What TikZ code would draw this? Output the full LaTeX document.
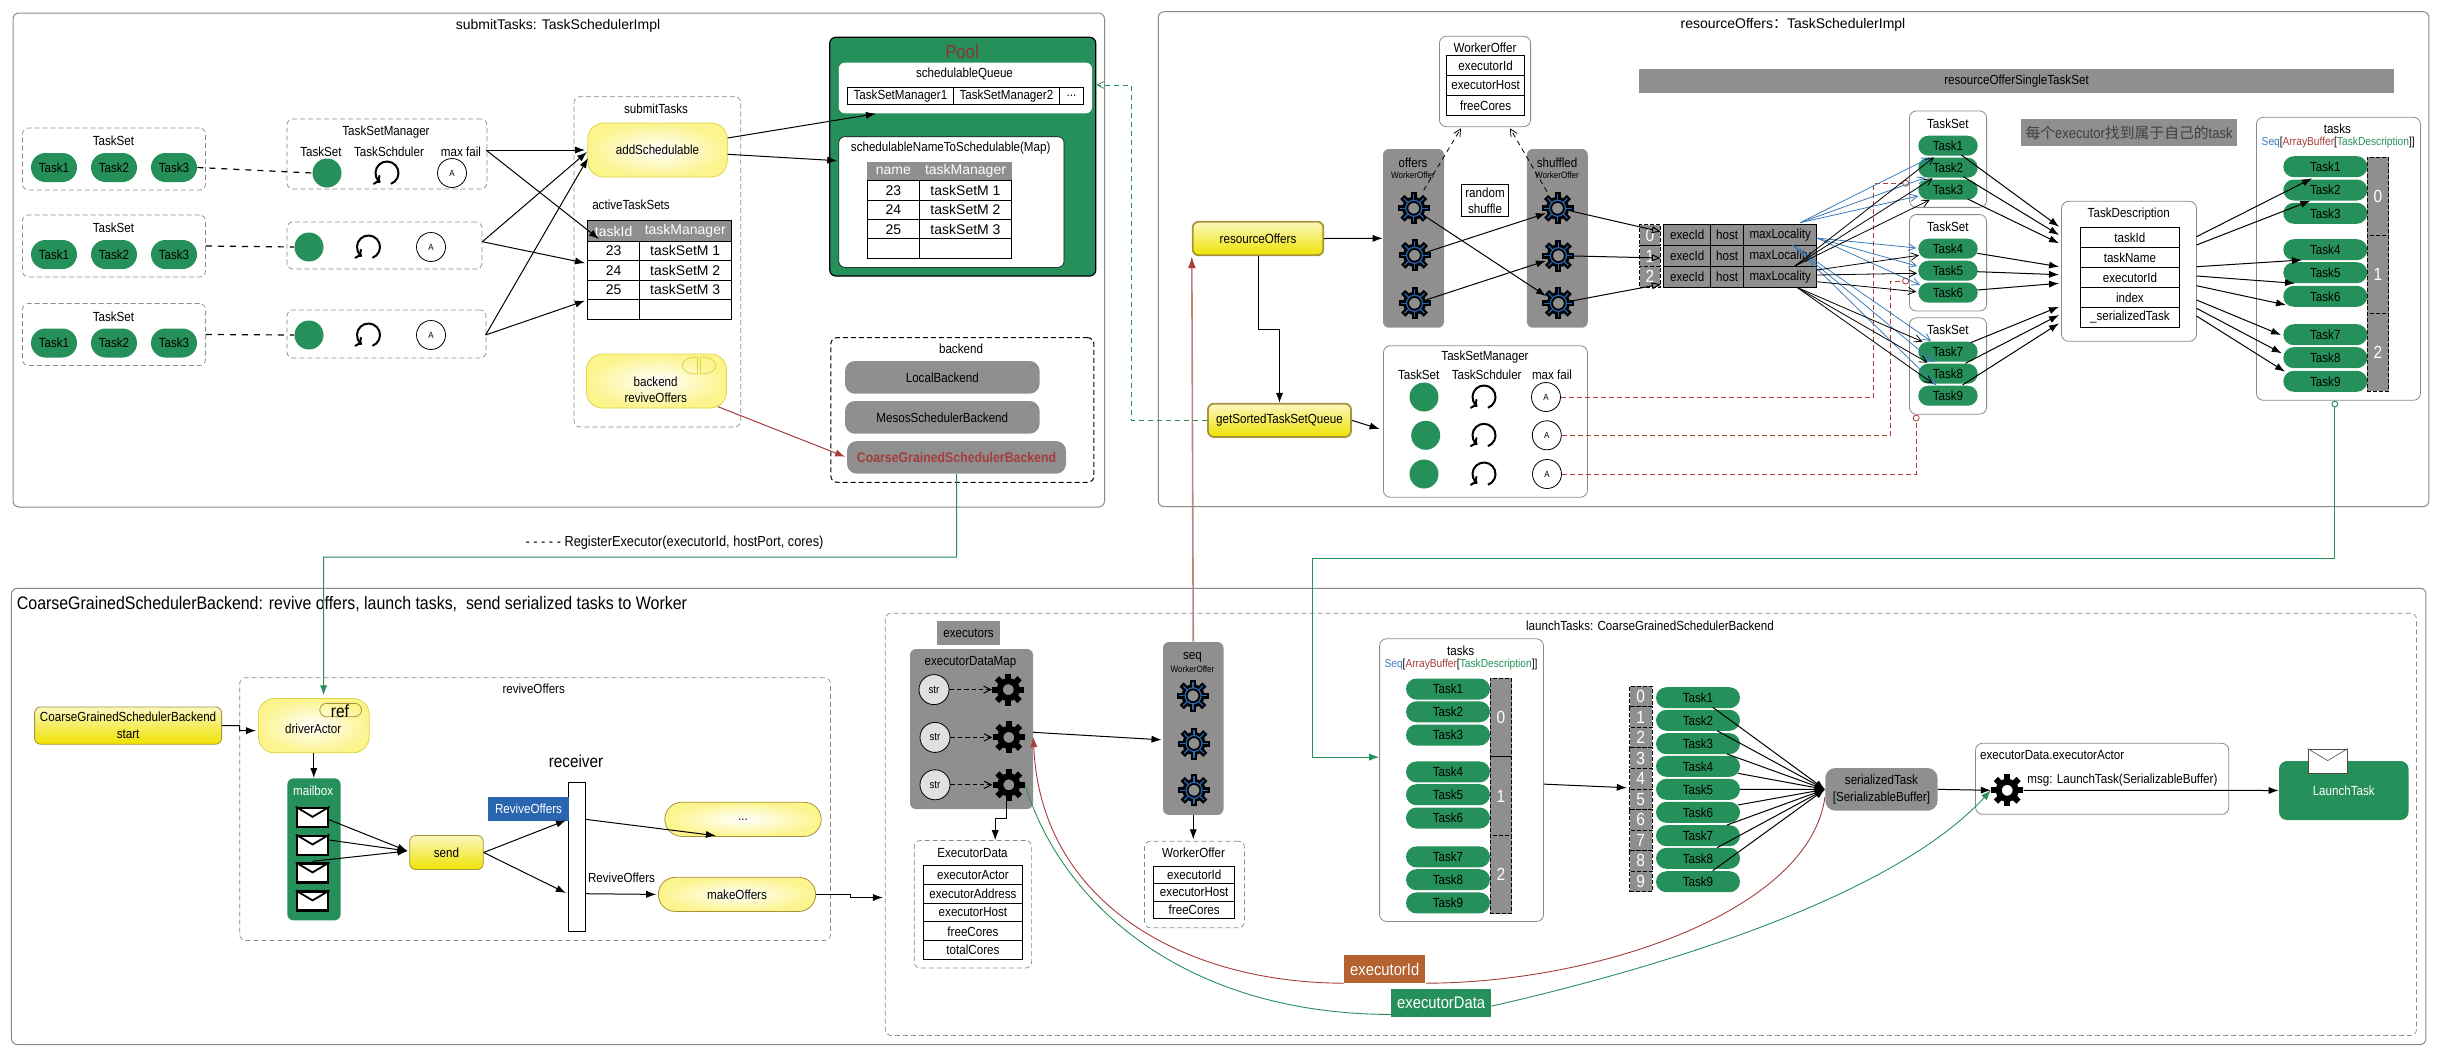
\documentclass[tikz,border=0pt]{standalone}
\usepackage{fontspec}
\setmainfont[FakeStretch=0.88]{Liberation Sans}
\newfontfamily\widefont{Liberation Sans}
\newfontfamily\cjk{Noto Sans CJK SC}
\usetikzlibrary{arrows.meta,calc,shapes.misc}
\definecolor{sgreen}{HTML}{25905A}
\definecolor{sgray}{HTML}{8F8F8F}
\definecolor{sred}{HTML}{A63C3C}
\definecolor{sblue}{HTML}{3E7CB8}
\definecolor{sbrown}{HTML}{B4622F}
\definecolor{gearblue}{HTML}{2A66B0}
\definecolor{linegray}{HTML}{8A8A8A}
\definecolor{yellow1}{HTML}{FBF8C0}
\definecolor{yellow2}{HTML}{EFE200}
\definecolor{yellow3}{HTML}{FCF48C}
\definecolor{yellowline}{HTML}{A8923A}
\begin{document}
\begin{tikzpicture}[x=.5pt,y=-.5pt,
  every node/.style = {inner sep=0pt, align=center, font=\fontsize{6.6}{7.4}\selectfont},
  wh/.style 2 args = {minimum width=#1*.5pt, minimum height=#2*.5pt},
  wide/.style = {font=\fontsize{7}{8}\selectfont\widefont},
  tinytext/.style = {font=\fontsize{4.6}{5}\selectfont},
  seqtext/.style = {font=\fontsize{5.8}{6.5}\selectfont},
  bigtext/.style = {font=\fontsize{8.8}{10}\selectfont},
  panel/.style = {draw=linegray, line width=.5pt, rounded corners=3pt},
  dashbox/.style = {draw=linegray, line width=.35pt, dash pattern=on 2.5pt off 1.5pt, rounded corners=3pt},
  solidbox/.style = {draw=linegray, line width=.4pt, fill=white, rounded corners=3.5pt},
  graybox/.style = {fill=sgray, rounded corners=3pt},
  flatgray/.style = {fill=sgray},
  pillnode/.style = {shape=rounded rectangle, fill=sgreen},
  cell/.style = {draw=black, line width=.5pt, fill=white},
  tablecell/.style = {cell, wide},
  headcell/.style = {fill=sgray, text=white, wide},
  stripcell/.style = {draw=black, line width=.5pt, dash pattern=on 2pt off 1pt, fill=sgray, text=white, bigtext},
  softyellow/.style = {draw=yellow!70!gray, line width=.4pt, inner color=white, outer color=yellow3, rounded corners=8pt},
  softpill/.style = {shape=rounded rectangle, draw=yellowline, line width=.4pt, inner color=white, outer color=yellow3},
  goldbox/.style = {draw=yellowline, line width=.9pt, top color=yellow1, bottom color=yellow2, rounded corners=3pt},
  thingold/.style = {goldbox, line width=.4pt},
  mgrdot/.style = {circle, fill=sgreen, minimum size=14.5pt},
  failnode/.style = {circle, draw=black, line width=.4pt, fill=white, minimum size=14.5pt, font=\fontsize{4.5}{5}\selectfont},
  strnode/.style = {circle, draw=black, line width=.4pt, fill=black!12, minimum size=15pt, font=\fontsize{5.5}{6}\selectfont},
  gearspot/.style = {circle, minimum size=16pt},
  envnode/.style = {draw=black, line width=1.3pt, fill=white, minimum width=15.5pt, minimum height=9.5pt},
  arr/.style = {-{Latex[length=5pt,width=3.6pt]}, line width=.5pt},
  vee/.style = {-{Straight Barb[length=3.6pt,width=3.6pt]}, line width=.4pt},
  opentip/.style = {-{Triangle[open,length=4.5pt,width=3.4pt]}, line width=.5pt},
  gearpic/.pic = {
    \foreach \na in {0,45,...,315} \draw[black, line width=3pt] (\na:9) -- (\na:16);
    \draw[black, line width=3pt] (0,0) circle[radius=8.5];
    \draw[#1, line width=.6pt] (0,0) circle[radius=8];
    \foreach \na in {0,45,...,315} \draw[#1, line width=.6pt] (\na:8) -- (\na:14);
  },
  looppic/.pic = {
    \draw[black, line width=1pt, -{To[length=2.8pt]}] (70:11.5) arc[start angle=70, end angle=-235, radius=11.5];
  }
  ]
  \useasboundingbox (0,0) rectangle (2441,1055);

  \node[panel, wh={1091.5}{494}] (submitPanel) at (558.75,260) {};
  \node[wide] (submitTitle) at (558,26) {submitTasks: TaskSchedulerImpl};
  \foreach \rw/\y in {A/159,B/246,C/334.5} {
    \node[dashbox, wh={183}{62}] (setBox\rw) at (114,\y) {};
    \node (setLabel\rw) at (113.5,{\y-18}) {TaskSet};
    \foreach \i/\x in {1/54,2/114,3/174}
      \node[pillnode, wh={46}{29}] (task\rw\i) at (\x,{\y+8.5}) {Task\i};
  }
  \node[dashbox, wh={200}{70}] (mgrBoxA) at (387,154) {};
  \node[dashbox, wh={195}{47}] (mgrBoxB) at (384.5,245.5) {};
  \node[dashbox, wh={199}{48}] (mgrBoxC) at (386.5,334) {};
  \node (mgrTitle) at (386,132) {TaskSetManager};
  \node (mgrHeadA) at (321,152) {TaskSet};
  \node (mgrHeadB) at (389,152) {TaskSchduler};
  \node (mgrHeadC) at (461,152) {max fail};
  \foreach \rw/\xa/\xb/\xc/\y in {A/327/387/452/173,B/309/368.5/431/247,C/309/368.5/431/335} {
    \node[mgrdot] (mgrDot\rw) at (\xa,\y) {};
    \pic at (\xb,\y) {looppic};
    \node[failnode] (mgrFail\rw) at (\xc,\y) {A};
  }
  \draw[line width=.6pt, dashed] (taskA3.east) -- (mgrDotA.west);
  \draw[line width=.6pt, dashed] (setBoxB.east) -- (mgrDotB.west);
  \draw[line width=.6pt, dashed] (setBoxC.east) -- (mgrDotC.west);

  \node[dashbox, wh={166.7}{330.3}] (submitBox) at (657.4,261.8) {};
  \node (submitLabel) at (656,109) {submitTasks};
  \node[softyellow, wh={139.5}{54}] (addSched) at (657.5,150) {addSchedulable};
  \node (activeLabel) at (631,205) {activeTaskSets};
  \node[headcell, wh={51.8}{20}] (activeHeadA) at (613.6,231) {taskId};
  \node[headcell, wh={91.5}{20}] (activeHeadB) at (685.25,231) {taskManager};
  \foreach \tid/\tm [count=\i] in {23/taskSetM 1,24/taskSetM 2,25/taskSetM 3,~/~} {
    \node[tablecell, wh={51.8}{19.5}] (activeId\i) at (613.6,{241+19.5*(\i-.5)}) {\tid};
    \node[tablecell, wh={91.5}{19.5}] (activeMgr\i) at (685.25,{241+19.5*(\i-.5)}) {\tm};
  }
  \draw[draw=black, line width=.6pt] (activeHeadA.north west) rectangle (activeHeadB.south east);
  \node[softyellow, wh={140}{54}] (revive) at (656.5,381) {};
  \node (reviveLabel) at (655.7,390) {backend\\[.6pt]reviveOffers};
  \draw[draw=yellow!70!gray, line width=.4pt] (697.6,357) .. controls (677,357) and (677,374) .. (697.6,374) -- cycle;
  \draw[draw=yellow!70!gray, line width=.4pt] (700.4,357) .. controls (721,357) and (721,374) .. (700.4,374) -- cycle;

  \foreach \sa/\sx/\sy/\ea/\ex/\ey in {
    mgrBoxA/99/-4/addSched/-72.5/0, mgrBoxA/99/-4/activeHeadA/-14.6/8,
    mgrBoxB/97.9/-3.8/addSched/-70.5/2, mgrBoxB/97.9/-3.8/activeId2/-28.6/-7.2,
    mgrBoxC/99.1/1/addSched/-69.5/8, mgrBoxC/99.1/1/activeId4/-28.6/-8.5}
    \draw[arr] ($(\sa)+(\sx,\sy)$) -- ($(\ea)+(\ex,\ey)$);

  \node[draw=black, line width=.6pt, fill=sgreen, rounded corners=3pt, wh={266}{238.7}] (pool) at (962.75,156.65) {};
  \node[text=sred!85!black, font=\fontsize{9.5}{11}\selectfont] (poolLabel) at (962,52) {Pool};
  \node[fill=white, rounded corners=3pt, wh={253.2}{50.6}] (queueBox) at (965.4,88) {};
  \node (queueLabel) at (964.5,73.7) {schedulableQueue};
  \node[cell, wh={105.9}{17}] (queueA) at (900.45,95.8) {TaskSetManager1};
  \node[cell, wh={106}{17}] (queueB) at (1006.4,95.8) {TaskSetManager2};
  \node[cell, wh={24.1}{17}] (queueC) at (1071.45,95.8) {...};
  \node[draw=black, line width=.3pt, fill=white, rounded corners=3pt, wh={225.2}{130.6}] (mapBox) at (951.4,202) {};
  \node (mapLabel) at (950.7,147.7) {schedulableNameToSchedulable(Map)};
  \node[headcell, wh={52.2}{19}] (mapHeadA) at (893.3,171.2) {name};
  \node[headcell, wh={92.2}{19}] (mapHeadB) at (965.5,171.2) {taskManager};
  \foreach \tid/\tm [count=\i] in {23/taskSetM 1,24/taskSetM 2,25/taskSetM 3,~/~} {
    \node[tablecell, wh={52.2}{19.4}] (mapId\i) at (893.3,{180.7+19.4*(\i-.5)}) {\tid};
    \node[tablecell, wh={92.2}{19.4}] (mapMgr\i) at (965.5,{180.7+19.4*(\i-.5)}) {\tm};
  }
  \draw[arr] ($(addSched.east)+(0,-12)$) -- ($(queueBox.south west)+(37.5,0)$);
  \draw[arr] ($(addSched.east)+(0,4.3)$) -- ($(mapBox.west)+(-1.2,-41.3)$);

  \node[draw=black, line width=.5pt, dash pattern=on 2.5pt off 1.5pt, rounded corners=3pt, wh={262.9}{144.6}] (backendBox) at (962.35,410) {};
  \node (backendLabel) at (961,348.7) {backend};
  \node[graybox, rounded corners=5pt, wh={194.6}{32.7}] (localBackend) at (942.3,377.35) {LocalBackend};
  \node[graybox, rounded corners=5pt, wh={194.6}{32.7}] (mesosBackend) at (942.3,417.35) {MesosSchedulerBackend};
  \node[graybox, rounded corners=5pt, wh={219}{32.7}, text=sred, font=\fontsize{7}{8}\selectfont\bfseries] (coarseBackend) at (956.5,457.35) {CoarseGrainedSchedulerBackend};
  \draw[-{Latex[length=5pt,width=3.6pt]}, draw=sred, line width=.5pt] ($(revive)+(61.5,25.7)$) -- ($(coarseBackend.west)+(-1.5,-.6)$);

  \node[panel, wh={1270.7}{495}] (resourcePanel) at (1793.6,259.2) {};
  \node[wide] (resourceTitle) at (1793,25) {resourceOffers{\cjk ：}TaskSchedulerImpl};
  \node[flatgray, wh={755.2}{23.7}] (singleBar) at (2016.6,80.85) {};
  \node (singleLabel) at (2016.5,80.8) {resourceOfferSingleTaskSet};
  \node[solidbox, wh={91.2}{90.4}] (offerBox) at (1485,81.5) {};
  \node (offerLabel) at (1485,47.7) {WorkerOffer};
  \foreach \txt [count=\i] in {executorId,executorHost,freeCores}
    \node[cell, wh={78.4}{20}] (offerCell\i) at (1485.6,{55.3+20*(\i-.5)}) {\txt};

  \node[graybox, wh={61}{178.7}] (offers) at (1413.5,238.35) {};
  \node[graybox, wh={60.9}{178.7}] (shuffled) at (1557.35,238.35) {};
  \node (offersLabel) at (1413,162.7) {offers};
  \node[tinytext] (offersSub) at (1413,175) {WorkerOffer};
  \node (shuffledLabel) at (1557,162.7) {shuffled};
  \node[tinytext] (shuffledSub) at (1557,175) {WorkerOffer};
  \foreach \nm/\x/\y in {ofA/1413.7/208.3,ofB/1414.5/255.3,ofC/1414.5/303.3,shA/1557.5/208.3,shB/1558.4/255.7,shC/1558.4/303.3} {
    \node[gearspot] (\nm) at (\x,\y) {};
    \pic at (\x,\y) {gearpic=gearblue};
  }
  \node[draw=black, line width=.5pt, wh={47.2}{32.4}] (shuffleNote) at (1485,200.5) {random\\[.6pt]shuffle};
  \draw[vee, dash pattern=on 2.5pt off 2pt] ($(ofA)+(10,-18)$) -- ($(offerBox)+(-24,46.8)$);
  \draw[vee, dash pattern=on 2.5pt off 2pt] ($(shA)+(-10.5,-16.6)$) -- ($(offerBox)+(25,46.8)$);
  \foreach \sa/\sx/\sy/\ea/\ex/\ey in {
    ofA/12/8.4/shC/-12.4/-7.3, ofB/13.3/-3.6/shA/-11.5/5, ofC/11.2/-3.3/shB/-12.4/5}
    \draw[arr] ($(\sa)+(\sx,\sy)$) -- ($(\ea)+(\ex,\ey)$);

  \foreach \rw/\y [count=\i from 0] in {A/235,B/256,C/276.8} {
    \node[stripcell, wh={20.8}{21}] (idx\rw) at (1650,\y) {\i};
    \node[draw=black, line width=.5pt, fill=sgray, wh={46.5}{20.8}] (exId\rw) at (1687.2,\y) {execId};
    \node[draw=black, line width=.5pt, fill=sgray, wh={33.2}{20.8}] (exHost\rw) at (1727.1,\y) {host};
    \node[draw=black, line width=.5pt, fill=sgray, wh={73}{20.8}] (exMax\rw) at (1780.2,\y) {maxLocality};
  }
  \foreach \sa/\sx/\sy/\ea/\ex/\ey in {
    shA/13.3/2.7/idxA/10.8/-3.3, shB/15.6/.3/idxB/10.8/2, shC/14.6/-2.6/idxC/10.8/7.4}
    \draw[opentip] ($(\sa)+(\sx,\sy)$) -- ($(\ea)+(\ex,\ey)$);

  \node[goldbox, wh={130.6}{33.6}] (resOffers) at (1258,238.5) {resourceOffers};
  \node[goldbox, wh={143}{33.3}] (sortQueue) at (1279.5,420.35) {getSortedTaskSetQueue};
  \coordinate (sortBend) at (1279.5,329.3);
  \draw[arr] (resOffers.east) -- (offers.west);
  \draw[arr] (resOffers.south) |- (sortBend) -- (sortQueue.north);

  \node[solidbox, wh={204}{151.6}] (mgrBoxR) at (1485.4,421.5) {};
  \node (mgrTitleR) at (1485,357) {TaskSetManager};
  \node (mgrHeadRA) at (1418.7,374.7) {TaskSet};
  \node (mgrHeadRB) at (1486.7,374.7) {TaskSchduler};
  \node (mgrHeadRC) at (1552,374.7) {max fail};
  \foreach \rw/\xa/\xc/\y in {A/1424/1546/397,B/1425.7/1546.8/435.3,C/1424/1547/474} {
    \node[mgrdot] (rDot\rw) at (\xa,\y) {};
    \pic at (1484,\y) {looppic};
    \node[failnode] (rFail\rw) at (\xc,\y) {A};
  }
  \draw[arr] (sortQueue.east) -- ($(mgrBoxR.west)+(-3.4,7.5)$);

  \foreach \rw/\y in {A/159.15,B/262.8,C/366}
    \node[solidbox, wh={77.2}{96.4}] (tsBox\rw) at (1948,\y) {};
  \node (tsLabelA) at (1947.8,123.7) {TaskSet};
  \node (tsLabelB) at (1947.8,226.7) {TaskSet};
  \node (tsLabelC) at (1947.8,329.7) {TaskSet};
  \foreach \i/\y in {1/145.7,2/167.7,3/189.7,4/248.7,5/270.7,6/292.7,7/351.7,8/373.7,9/395.7}
    \node[pillnode, wh={59.4}{20}] (t\i) at (1948,\y) {Task\i};
  \node[flatgray, wh={216}{26.7}, text=black!75, font=\fontsize{7.4}{8.4}\selectfont] (noteBox) at (2129,132.35) {{\cjk 每个}executor{\cjk 找到属于自己的}task};

  \coordinate (failBendA) at (1873.6,183.3);
  \coordinate (failBendB) at (1890.5,281);
  \draw[draw=sred, line width=.4pt, dash pattern=on 2.5pt off 1.5pt, -{Circle[open,length=3.4pt,width=3.4pt]}] (rFailA.east) -| (failBendA) -- (failBendA -| tsBoxA.west);
  \draw[draw=sred, line width=.4pt, dash pattern=on 2.5pt off 1.5pt, -{Circle[open,length=3.4pt,width=3.4pt]}] (rFailB.east) -| (failBendB) -- (failBendB -| tsBoxB.west);
  \draw[draw=sred, line width=.4pt, dash pattern=on 2.5pt off 1.5pt, -{Circle[open,length=3.4pt,width=3.4pt]}] (rFailC.east) -| ($(tsBoxC.south)+(-31.8,0)$);

  \foreach \sa/\sx/\sy/\ea/\ex/\ey in {
    exMaxA/19.8/-12.3/t1/-18.3/12, exMaxA/19.8/-12.3/t2/-22.6/10, exMaxA/19.8/-12.3/t3/-29.7/6.3,
    exMaxA/36.5/3/t4/-31.8/-.7, exMaxA/36.5/3/t5/-31/-4.7, exMaxA/36.5/3/t6/-28/-7.7,
    exMaxB/12.4/-11/t7/-17/-10.7, exMaxB/12.4/-11/t8/-14/-11.4, exMaxB/12.4/-11/t9/-12/-10.7}
    \draw[vee, draw=sblue] ($(\sa)+(\sx,\sy)$) -- ($(\ea)+(\ex,\ey)$);
  \foreach \sa/\sx/\sy/\ea/\ex/\ey in {
    exMaxC/14.6/-10.8/t1/-14/11.6, exMaxC/14.6/-10.8/t2/-15.4/10.6, exMaxC/14.6/-10.8/t3/-18.3/10.3,
    exMaxC/36.5/-6.8/t4/-29/6.6, exMaxC/36.5/-1.8/t5/-31/2.6, exMaxC/36.5/4.9/t6/-31.8/-1,
    exMaxC/16.7/10.5/t7/-25.5/-10, exMaxC/16.7/10.5/t8/-20.4/-11, exMaxC/16.7/10.5/t9/-15.4/-12.4}
    \draw[vee] ($(\sa)+(\sx,\sy)$) -- ($(\ea)+(\ex,\ey)$);

  \node[solidbox, wh={134.9}{140}] (descBox) at (2129,271.3) {};
  \node (descLabel) at (2128.7,213.7) {TaskDescription};
  \foreach \txt [count=\i] in {taskId,taskName,executorId,index,\_serializedTask}
    \node[cell, wh={98.6}{20}] (descCell\i) at (2129.9,{227.3+20*(\i-.5)}) {\txt};
  \foreach \sa/\sx/\sy/\ey in {
    t1/13.3/9.3/-44.6, t2/15.4/9/-36.3, t3/19.6/9.3/-28, t4/29.3/4.6/-4.6, t5/29.3/1/3.4,
    t6/29.3/-2.7/12, t7/22.6/-9/35.4, t8/17.5/-10.4/43.7, t9/14.5/-10.7/52}
    \draw[arr] ($(\sa)+(\sx,\sy)$) -- ($(descBox)+(-70,\ey)$);

  \node[solidbox, wh={164}{283}] (tasksBoxA) at (2338.4,258.8) {};
  \node (tasksTitleA) at (2337.3,128.7) {tasks};
  \node[seqtext] (tasksTypeA) at (2338.2,142.7) {{\color{sblue}Seq}[{\color{sred}ArrayBuffer}[{\color{sgreen}TaskDescription}]]};
  \foreach \i/\y in {1/166.7,2/190,3/213.3,4/249.7,5/272.7,6/296.3,7/334.7,8/357.7,9/381.3}
    \node[pillnode, wh={84}{21}] (m\i) at (2325.3,\y) {Task\i};
  \foreach \i/\y in {0/196.3,1/274.3,2/352.3}
    \node[stripcell, wh={21.5}{78}] (stripA\i) at (2378,\y) {\i};
  \foreach \sy/\ea/\ex/\ey in {
    -34.6/m1/-13.3/11.6, -26.3/m2/-14.9/10.7, -4.6/m4/-23.3/10.3, 4.7/m5/-30.3/10.6,
    14.4/m6/-39.3/8.7, 28.7/m7/-44.3/.3, 37/m8/-43.6/-4.4, 44.7/m9/-40.3/-9.6}
    \draw[arr] ($(descBox)+(67.5,\sy)$) -- ($(\ea)+(\ex,\ey)$);

  \coordinate (poolBend) at (1131,85);
  \draw[vee, draw=sgreen, dash pattern=on 2.5pt off 2pt] (sortQueue.west) -| (poolBend) -- (poolBend -| pool.east);

  \node[font=\fontsize{7.25}{8}\selectfont] (registerLabel) at (674.5,543) {- - - - - RegisterExecutor(executorId, hostPort, cores)};

  \node[panel, wh={2414.5}{456.3}] (backendPanel) at (1218.7,816.4) {};
  \node[anchor=west, font=\fontsize{9.05}{11}\selectfont] (backendTitle) at (16.5,603.6) {CoarseGrainedSchedulerBackend: revive offers, launch tasks,\ \ send serialized tasks to Worker};

  \node[dashbox, wh={590.8}{262.8}] (reviveBox) at (535.1,809.1) {};
  \node (reviveTitle) at (533.7,689) {reviveOffers};
  \node[thingold, wh={187}{37.2}] (startNode) at (128.1,725.6) {CoarseGrainedSchedulerBackend\\[1.2pt]start};
  \node[softyellow, wh={110.8}{54.3}] (driver) at (313.8,725.65) {};
  \node (driverLabel) at (313.2,729) {driverActor};
  \node[shape=rounded rectangle, draw=yellowline, line width=.4pt, wh={41.7}{13.3}] (refPill) at (340.65,710) {};
  \node[bigtext] (refLabel) at (340,711) {ref};
  \coordinate (startBend) at (239.7,730.6);
  \draw[arr] (startNode.east) -| (startBend) -- ($(driver.west)+(-2,5)$);
  \node[fill=sgreen, rounded corners=3pt, wh={53.2}{141.9}] (mailbox) at (314,849.35) {};
  \node[text=white] (mailboxLabel) at (313.2,790.6) {mailbox};
  \foreach \i/\y in {1/817.6,2/845.3,3/873.2,4/901.2} {
    \node[envnode] (env\i) at (312.6,\y) {};
    \draw[line width=.9pt] (env\i.north west) -- ($(env\i.north)+(0,10)$) -- (env\i.north east);
  }
  \draw[arr] (driver.south) -- (driver.south |- mailbox.north);
  \node[thingold, wh={73.5}{34.1}] (sendNode) at (446.5,852.5) {send};
  \foreach \sa/\sx/\sy in {env1/16.4/2.1,env2/16.4/-5.3,env3/0/-11.9}
    \draw[arr] ($(\sa)+(\sx,\sy)$) -- ($(sendNode)+(-39,-1.5)$);
  \node[draw=black, line width=.5pt, fill=white, wh={16.5}{148.8}] (receiverBar) at (577,857.2) {};
  \node[font=\fontsize{8.7}{10}\selectfont] (receiverLabel) at (576,761.6) {receiver};
  \node[fill=gearblue, text=white, wh={80.6}{23.7}] (reviveMsg) at (528.5,808.85) {ReviveOffers};
  \node[softpill, wh={156.4}{34.2}] (dotsPill) at (743,819.3) {...};
  \node (reviveMsgB) at (621.5,877.7) {ReviveOffers};
  \node[softpill, wh={157.4}{34.2}] (makeOffers) at (737,894.4) {makeOffers};
  \draw[arr] (sendNode.east) -- ($(receiverBar)+(-11,-36.9)$);
  \draw[arr] (sendNode.east) -- ($(receiverBar)+(-11,35.8)$);
  \draw[arr] ($(receiverBar)+(8.3,-37.9)$) -- ($(dotsPill)+(-27.1,16.4)$);
  \draw[arr] ($(receiverBar)+(8.3,36.5)$) -- ($(makeOffers.west)+(-1.7,0)$);

  \node[dashbox, wh={1531.3}{422.2}] (launchBox) at (1650.85,824.3) {};
  \node (launchTitle) at (1650,625.8) {launchTasks: CoarseGrainedSchedulerBackend};
  \coordinate (launchBendA) at (850,897.5);
  \draw[arr] (makeOffers.east) -| (launchBendA) -- ($(launchBendA -| launchBox.west)+(-2,0)$);

  \node[flatgray, wh={63}{24}] (executorsLabel) at (968.5,633) {executors};
  \node[graybox, wh={123}{160}] (dataMap) at (971.5,729) {};
  \node (dataMapLabel) at (970.5,662) {executorDataMap};
  \foreach \rw/\xa/\xb/\y in {A/934/1008.3/689.6,B/935/1008.8/737.4,C/935/1008.8/784.8} {
    \node[strnode] (str\rw) at (\xa,\y) {str};
    \node[gearspot] (mapGear\rw) at (\xb,\y) {};
    \pic at (\xb,\y) {gearpic=black};
    \draw[vee, line width=.5pt, dash pattern=on 2.2pt off 1.5pt] (str\rw.east) -- (mapGear\rw.west);
  }
  \node[dashbox, wh={117.3}{127.5}] (dataBox) at (972.95,904.25) {};
  \node (dataLabel) at (972.5,852.8) {ExecutorData};
  \foreach \txt [count=\i] in {executorActor,executorAddress,executorHost,freeCores,totalCores}
    \node[cell, wh={98.9}{18.84}] (dataCell\i) at (972.95,{865.4+18.84*(\i-.5)}) {\txt};
  \coordinate (dataBend) at (995.2,818.6);
  \draw[arr] ($(mapGearC.south)+(-2.4,0)$) |- (dataBend) -- (dataBend |- dataBox.north);

  \node[graybox, wh={60.5}{172.9}] (seqBox) at (1193.25,728.45) {};
  \node (seqLabel) at (1192.5,657.2) {seq};
  \node[tinytext] (seqSub) at (1192.5,669) {WorkerOffer};
  \foreach \nm/\x/\y in {gA/1193/695.8,gB/1194/743.5,gC/1194/790.3} {
    \node[gearspot] (\nm) at (\x,\y) {};
    \pic at (\x,\y) {gearpic=gearblue};
  }
  \node[dashbox, wh={99.9}{86.6}] (seqOffer) at (1194.45,884.5) {};
  \node (seqOfferLabel) at (1193.5,852.8) {WorkerOffer};
  \foreach \txt [count=\i] in {executorId,executorHost,freeCores}
    \node[cell, wh={81}{17.4}] (seqCell\i) at (1194.2,{866.4+17.4*(\i-.5)}) {\txt};
  \draw[arr] ($(dataMap)+(61.5,3.3)$) -- ($(seqBox)+(-31.75,11.35)$);
  \draw[arr] (seqBox.south) -- ($(seqBox.south |- seqOffer.north)+(0,-1.5)$);
  \draw[-{Latex[length=6pt,width=4pt,color=sred]}, draw=sred!65!white, line width=.8pt] (seqBox.north) -- (resOffers.south west);

  \node[solidbox, wh={163.9}{282.6}] (tasksBoxB) at (1461.55,780.1) {};
  \node (tasksTitleB) at (1460.6,650.7) {tasks};
  \node[seqtext] (tasksTypeB) at (1461,664.7) {{\color{sblue}Seq}[{\color{sred}ArrayBuffer}[{\color{sgreen}TaskDescription}]]};
  \foreach \i/\y in {1/689,2/711.8,3/735,4/771.9,5/794.7,6/818,7/856.9,8/879.7,9/902.9}
    \node[pillnode, wh={84}{21}] (n\i) at (1448,\y) {Task\i};
  \foreach \i/\y in {0/717.45,1/795.95,2/874.45}
    \node[stripcell, wh={21.3}{78.4}] (stripB\i) at (1500.85,\y) {\i};

  \foreach \i in {0,...,9}
    \node[stripcell, wh={22.5}{20.54}] (slot\i) at (1640.75,{686.3+20.54*(\i+.5)}) {\i};
  \foreach \i/\y in {1/697.7,2/720.3,3/743.7,4/766.3,5/789.3,6/812.3,7/835.7,8/858.3,9/881.7}
    \node[pillnode, wh={84}{21}] (p\i) at (1698,\y) {Task\i};
  \draw[arr] ($(tasksBoxB)+(82,4)$) -- ($(slot4)+(-13.95,9)$);
  \node[graybox, rounded corners=5pt, wh={112.2}{42.7}] (serialTask) at (1881.4,789.35) {serializedTask\\[1.2pt]{[}SerializableBuffer{]}};
  \foreach \sa/\sx/\sy in {p1/14.7/9.6,p2/19/10.4,p3/29/10.3,p4/39.9/7,p5/42/0,p6/39.9/-7.3,p7/29/-10.7,p8/19/-10.6,p9/14.7/-11}
    \draw[arr] ($(\sa)+(\sx,\sy)$) -- ($(serialTask)+(-56.5,0)$);

  \node[solidbox, wh={253.3}{71}] (actorBox) at (2102.15,778.8) {};
  \node[anchor=west] (actorLabel) at (1979.8,755) {executorData.executorActor};
  \node[gearspot] (actorGear) at (2007.2,790.3) {};
  \pic at (2007.2,790.3) {gearpic=black};
  \node[anchor=west] (actorMsg) at (2027,780) {msg: LaunchTask(SerializableBuffer)};
  \node[fill=sgreen, rounded corners=4pt, text=white, wh={129.5}{59}] (launchTask) at (2343.75,790.5) {LaunchTask};
  \node[draw=black!70, line width=.4pt, fill=white, wh={39.3}{24.3}] (launchEnv) at (2327.65,761.15) {};
  \draw[line width=.3pt, draw=black!70] (launchEnv.north west) -- ($(launchEnv.north)+(0,12)$) -- (launchEnv.north east);
  \draw[arr] (serialTask.east) -- (actorGear.west);
  \draw[arr] (actorGear.east) -- (launchTask.west);

  \node[fill=sbrown, text=white, font=\fontsize{8.4}{10}\selectfont, wh={81}{27.6}] (execId) at (1384.7,969) {executorId};
  \node[fill=sgreen, text=white, font=\fontsize{8.4}{10}\selectfont, wh={99.7}{27.8}] (execData) at (1441.15,1003.15) {executorData};
  \draw[draw=sred, line width=.45pt] ($(serialTask.west)+(0,7.6)$) .. controls (1810,910) and (1600,982.8) .. (execId.south east);
  \draw[draw=sred, line width=.45pt, -{Latex[length=5pt,width=3.6pt]}] (execId.south west) .. controls (1180,982.8) and (1040,900) .. ($(dataMap.east)+(0,8)$);
  \draw[draw=sgreen, line width=.45pt] (mapGearC.east) .. controls (1060,900) and (1180,1014) .. ($(execData.south west)+(0,-3)$);
  \draw[draw=sgreen, line width=.45pt, -{Latex[length=5pt,width=3.6pt]}] ($(execData.east)+(0,3)$) .. controls (1650,970) and (1890,900) .. (actorGear.west);

  \coordinate (registerBend) at (323.6,557);
  \coordinate (launchBend) at (1312.7,558);
  \draw[arr, draw=sgreen] (coarseBackend.south) |- (registerBend) -- ($(driver.north)+(9.8,-2.8)$);
  \draw[draw=sgreen, line width=.5pt, {Circle[open,length=3.4pt,width=3.4pt]}-{Latex[length=5pt,width=3.6pt]}] ($(tasksBoxA.south)+(-3.6,0)$) |- (launchBend) |- ($(tasksBoxB.west)+(0,-23)$);
\end{tikzpicture}
\end{document}
